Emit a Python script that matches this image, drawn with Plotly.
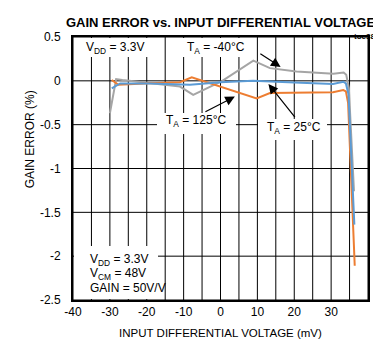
import plotly.graph_objects as go

# Gain error (%) vs. input differential voltage (mV), three temperatures
x_m40 = [-30, -28.3, -26.6, -19, -11, -7.4, -1, 0.5, 8.9, 13.4, 20.6, 30.6, 33.4, 34.1, 34.8, 36.2]
y_m40 = [-0.37, 0.02, 0.01, -0.03, -0.065, -0.16, -0.03, 0.0, 0.23, 0.145, 0.106, 0.08, 0.095, 0.07, -0.08, -1.26]

x_25 = [-29.5, -27.2, -19, -8.3, 0, 8.8, 20, 30.5, 33.3, 34.0, 34.7, 36.3]
y_25 = [-0.085, -0.03, -0.03, -0.045, -0.015, 0.0, -0.02, -0.035, -0.01, -0.03, -0.15, -1.64]

x_125 = [-29.5, -27.7, -19.1, -11, -7.8, 0, 2.6, 9.8, 13.4, 30.5, 33.3, 34.0, 34.6, 36.4]
y_125 = [0.01, -0.045, -0.027, -0.015, 0.04, -0.065, -0.1, -0.2, -0.14, -0.13, -0.105, -0.12, -0.25, -2.11]

# grid every 5 mV, labels every 10 mV
x_ticks = [-40, -35, -30, -25, -20, -15, -10, -5, 0, 5, 10, 15, 20, 25, 30, 35, 40]
x_ticktext = ["-40", "", "-30", "", "-20", "", "-10", "", "0", "", "10", "", "20", "", "30", "", "40"]
y_ticks = [0.5, 0, -0.5, -1, -1.5, -2, -2.5]
y_ticktext = ["0.5", "0", "-0.5", "-1", "-1.5", "-2", "-2.5"]

GRAY = "#a5a5a5"
BLUE = "#5b9bd5"
ORANGE = "#ed7d31"
FONT = "Liberation Sans, Arial, sans-serif"

fig = go.Figure()
fig.add_trace(go.Scatter(x=x_m40, y=y_m40, mode="lines", line=dict(color=GRAY, width=2)))
fig.add_trace(go.Scatter(x=x_125, y=y_125, mode="lines", line=dict(color=ORANGE, width=2)))
fig.add_trace(go.Scatter(x=x_25, y=y_25, mode="lines", line=dict(color=BLUE, width=2)))

# grid lines at every tick position, drawn beneath the curves
for xv in x_ticks:
    fig.add_shape(type="line", xref="x", yref="y domain", x0=xv, x1=xv, y0=0, y1=1,
                  line=dict(color="black", width=1), layer="below")
for yv in y_ticks:
    fig.add_shape(type="line", xref="x domain", yref="y", x0=0, x1=1, y0=yv, y1=yv,
                  line=dict(color="black", width=1), layer="below")

# white label panels (center x, center y, width px, height px) that hide the grid behind text
panels = [
    (-28.07, 0.380, 86, 19),
    (-1.22, 0.380, 78, 19),
    (-6.51, -0.487, 79, 21),
    (19.53, -0.555, 69, 21),
    (-28.34, -2.186, 84, 53),
]
for cx, cy, w, h in panels:
    fig.add_annotation(x=cx, y=cy, text="&nbsp;", showarrow=False, width=w, height=h,
                       bgcolor="white", borderpad=0, borderwidth=0,
                       xanchor="center", yanchor="middle")

ann = dict(showarrow=False, font=dict(family=FONT, size=12, color="black"))
fig.add_annotation(x=-28.6, y=0.374, text="V<sub>DD</sub> = 3.3V", **ann)
fig.add_annotation(x=-1.1, y=0.374, text="T<sub>A</sub> = -40°C", **ann)
fig.add_annotation(x=-6.7, y=-0.458, text="T<sub>A</sub> = 125°C", **ann)
fig.add_annotation(x=19.9, y=-0.535, text="T<sub>A</sub> = 25°C", **ann)
fig.add_annotation(x=-36.0, y=-2.042, text="V<sub>DD</sub> = 3.3V", xanchor="left", **ann)
fig.add_annotation(x=-36.0, y=-2.202, text="V<sub>CM</sub> = 48V", xanchor="left", **ann)
fig.add_annotation(x=-36.0, y=-2.361, text="GAIN = 50V/V", xanchor="left", **ann)

arrow = dict(text="", showarrow=True, axref="x", ayref="y", arrowhead=2,
             arrowsize=1.6, arrowwidth=1.2, arrowcolor="black")
fig.add_annotation(x=16.3, y=0.158, ax=10.4, ay=0.321, **arrow)
fig.add_annotation(x=3.9, y=-0.179, ax=-4.5, ay=-0.361, **arrow)
fig.add_annotation(x=13.0, y=-0.036, ax=20.5, ay=-0.43, **arrow)

fig.add_annotation(xref="paper", yref="paper", x=0.5, y=1.0, yshift=24,
                   text="<b>GAIN ERROR vs. INPUT DIFFERENTIAL VOLTAGE</b>",
                   showarrow=False, font=dict(family=FONT, size=13, color="black"))
fig.add_annotation(xref="paper", yref="paper", x=0.946, xanchor="left", y=1.0, yshift=7,
                   text="<b>toc38</b>", showarrow=False,
                   font=dict(family=FONT, size=8, color="black"))
fig.add_annotation(xref="paper", yref="paper", x=-0.177, y=0.61,
                   text="GAIN ERROR (%)", textangle=-90, showarrow=False,
                   font=dict(family=FONT, size=12, color="black"))

fig.update_layout(
    template="none",
    width=373, height=345,
    margin=dict(l=73, r=5, t=37, b=45),
    plot_bgcolor="white", paper_bgcolor="white",
    showlegend=False,
    font=dict(family=FONT, size=12, color="black"),
)
fig.update_xaxes(
    range=[-40, 40], tickmode="array", tickvals=x_ticks, ticktext=x_ticktext,
    showgrid=False,
    showline=True, linecolor="black", linewidth=2, mirror=True, zeroline=False,
    ticks="",
    title=dict(text="INPUT DIFFERENTIAL VOLTAGE (mV)", standoff=11,
               font=dict(family=FONT, size=11.5)),
    tickfont=dict(family=FONT, size=12),
)
fig.update_yaxes(
    range=[-2.5, 0.5], tickmode="array", tickvals=y_ticks, ticktext=y_ticktext,
    showgrid=False,
    showline=True, linecolor="black", linewidth=2, mirror=True, zeroline=False,
    ticks="outside", ticklen=8, tickcolor="rgba(0,0,0,0)",
    tickfont=dict(family=FONT, size=12),
)

fig.write_html("out.html")
